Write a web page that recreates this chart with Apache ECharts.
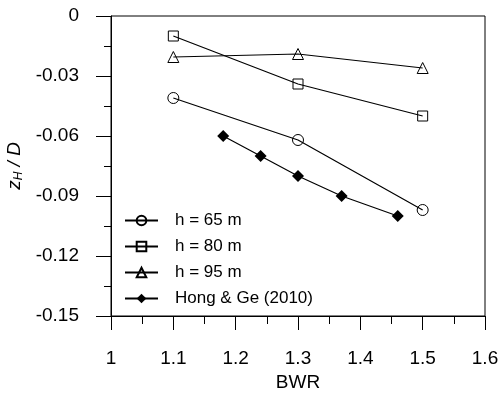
<!DOCTYPE html>
<html><head><meta charset="utf-8">
<script src="https://cdn.jsdelivr.net/npm/echarts@6/dist/echarts.min.js"></script>
<style>html,body{margin:0;padding:0;background:#fff}#c{width:500px;height:393px}</style>
</head><body><div id="c"></div>
<script>
const xTicks = [1, 1.1, 1.2, 1.3, 1.4, 1.5, 1.6];
const yTicks = [0, -0.03, -0.06, -0.09, -0.12, -0.15];
const bwrModel = [1.1, 1.3, 1.5];
const h65 = [-0.041, -0.062, -0.097];
const h80 = [-0.010, -0.034, -0.050];
const h95 = [-0.0205, -0.019, -0.026];
const hongX = [1.18, 1.24, 1.30, 1.37, 1.46];
const hongY = [-0.060, -0.070, -0.080, -0.090, -0.100];
const names = ['h = 65 m', 'h = 80 m', 'h = 95 m', 'Hong & Ge (2010)'];

const FONT = 'Liberation Sans, Arial, sans-serif';
const zip = (xs, ys) => xs.map((x, i) => [x, ys[i]]);
const openStyle = {color: 'rgba(255,255,255,0)', borderColor: '#000', borderWidth: 1};
function mk(name, xs, ys, symbol, size, item) {
  return {
    name, type: 'line', data: zip(xs, ys), symbol, symbolSize: size,
    showAllSymbol: true,
    lineStyle: {color: '#000', width: 1.2},
    itemStyle: item, emphasis: {disabled: true}, animation: false
  };
}
const chart = echarts.init(document.getElementById('c'));
chart.setOption({
  backgroundColor: '#fff',
  grid: {left: 111, right: 15, top: 16, bottom: 77, show: true, borderColor: '#000', borderWidth: 1,
         backgroundColor: 'transparent', containLabel: false, outerBoundsMode: 'none'},
  legend: {
    orient: 'vertical', left: 124, top: 212, padding: 0, itemGap: 9, itemWidth: 33, itemHeight: 12,
    data: names,
    textStyle: {fontFamily: FONT, fontSize: 17, color: '#000', padding: [0, 0, 0, 12]},
    selectedMode: false
  },
  xAxis: {
    type: 'value', min: 1, max: 1.6, interval: 0.1,
    name: 'BWR', nameLocation: 'middle', nameGap: 53,
    nameTextStyle: {fontFamily: FONT, fontSize: 19, color: '#000'},
    axisLine: {show: true, onZero: false, lineStyle: {color: '#000', width: 1}},
    axisTick: {show: true, inside: false, length: 14, lineStyle: {color: '#000', width: 1}},
    minorTick: {show: true, splitNumber: 2, length: 8, lineStyle: {color: '#000', width: 1}},
    splitLine: {show: false},
    axisLabel: {margin: 33, fontFamily: FONT, fontSize: 19, color: '#000',
      formatter: v => { const t = xTicks.find(k => Math.abs(k - v) < 1e-9); return t === undefined ? '' : String(t); }}
  },
  yAxis: {
    type: 'value', min: -0.15, max: 0, interval: 0.03,
    name: '{i|z}{s|H}{i| / D}', nameLocation: 'middle', nameGap: 86, nameRotate: 90,
    nameTextStyle: {fontFamily: FONT, fontSize: 19, color: '#000',
      rich: {i: {fontFamily: FONT, fontSize: 19, fontStyle: 'italic', color: '#000'},
             s: {fontFamily: FONT, fontSize: 12, fontStyle: 'italic', color: '#000', verticalAlign: 'bottom', padding: [8, 0, 0, 0]}}},
    axisLine: {show: true, onZero: false, lineStyle: {color: '#000', width: 1}},
    axisTick: {show: true, inside: false, length: 15, lineStyle: {color: '#000', width: 1}},
    minorTick: {show: true, splitNumber: 2, length: 7, lineStyle: {color: '#000', width: 1}},
    splitLine: {show: false},
    axisLabel: {margin: 32, fontFamily: FONT, fontSize: 19, color: '#000',
      formatter: v => { const t = yTicks.find(k => Math.abs(k - v) < 1e-9); return t === undefined ? '' : (t === 0 ? '0' : t.toFixed(2)); }}
  },
  series: [
    mk(names[0], bwrModel, h65, 'circle', 11, openStyle),
    mk(names[1], bwrModel, h80, 'rect', 10, openStyle),
    mk(names[2], bwrModel, h95, 'triangle', 11, openStyle),
    mk(names[3], hongX, hongY, 'diamond', 12, {color: '#000', borderColor: '#000', borderWidth: 0})
  ]
});
</script></body></html>
